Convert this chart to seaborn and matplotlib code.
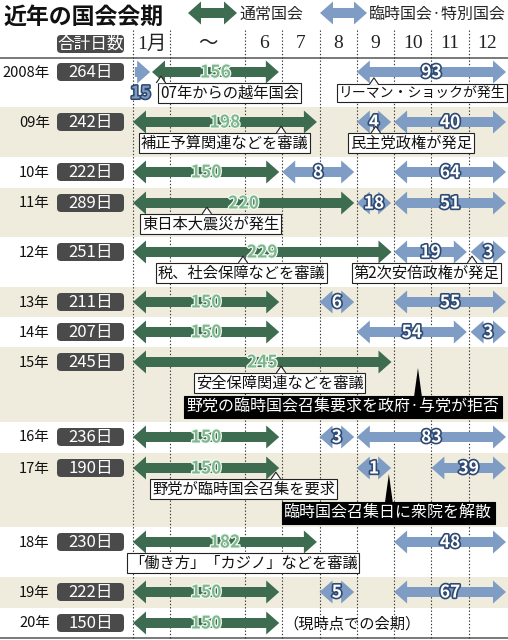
import numpy as np
import pandas as pd
import seaborn as sns
import matplotlib
matplotlib.use("Agg")
import matplotlib.pyplot as plt
from matplotlib.patches import Polygon, FancyBboxPatch, Rectangle
from matplotlib.lines import Line2D
import matplotlib.patheffects as pe

# ---------------- data ----------------
years = ["2008年", "09年", "10年", "11年", "12年", "13年", "14年",
         "15年", "16年", "17年", "18年", "19年", "20年"]
total_days = [264, 242, 222, 289, 251, 211, 207, 245, 236, 190, 230, 222, 150]

month_labels = ["1月", "～", "6", "7", "8", "9", "10", "11", "12"]
month_bounds = [0, 1, 3, 4, 5, 6, 7, 8, 9, 10]   # schematic column edges

# sessions (start / end in schematic month-column units)
seg_row = [0, 0, 0, 1, 1, 1, 2, 2, 2, 3, 3, 3, 4, 4, 4, 5, 5, 5, 6, 6, 6,
           7, 8, 8, 8, 9, 9, 9, 10, 10, 11, 11, 11, 12]
seg_kind = ["ext", "ord", "ext", "ord", "ext", "ext", "ord", "ext", "ext",
            "ord", "ext", "ext", "ord", "ext", "ext", "ord", "ext", "ext",
            "ord", "ext", "ext", "ord", "ord", "ext", "ext", "ord", "ext",
            "ext", "ord", "ext", "ord", "ext", "ext", "ord"]
seg_start = [0.05, 0.51, 6.0, 0.0, 6.0, 7.0, 0.0, 4.0, 7.0, 0.0, 6.0, 7.0,
             0.0, 7.0, 9.05, 0.0, 5.0, 7.0, 0.0, 6.0, 9.05, 0.0, 0.0, 5.0,
             6.0, 0.0, 6.0, 8.0, 0.0, 7.0, 0.0, 5.0, 7.0, 0.0]
seg_end = [0.46, 3.91, 10.0, 4.93, 6.92, 10.0, 3.92, 5.93, 10.0, 5.93, 6.92,
           10.0, 6.93, 8.95, 10.0, 3.92, 5.93, 10.0, 3.92, 8.95, 10.0, 6.93,
           3.92, 5.93, 10.0, 3.92, 6.92, 10.0, 4.93, 10.0, 3.92, 5.93, 10.0,
           3.92]
seg_days = [15, 156, 93, 198, 4, 40, 150, 8, 64, 220, 18, 51, 229, 19, 3,
            150, 6, 55, 150, 54, 3, 245, 150, 3, 83, 150, 1, 39, 182, 48,
            150, 5, 67, 150]

# annotations
ann_row = [0, 0, 1, 1, 3, 4, 4, 7, 7, 9, 9, 10, 12]
ann_text = ["07年からの越年国会", "リーマン・ショックが発生", "補正予算関連などを審議",
            "民主党政権が発足", "東日本大震災が発生", "税、社会保障などを審議",
            "第2次安倍政権が発足", "安全保障関連などを審議",
            "野党の臨時国会召集要求を政府·与党が拒否", "野党が臨時国会召集を要求",
            "臨時国会召集日に衆院を解散", "「働き方」「カジノ」などを審議",
            "（現時点での会期）"]
ann_x = [2.59, 7.76, 2.45, 7.45, 2.09, 2.91, 7.86, 3.93, 5.64, 2.96, 6.84,
         2.95, 4.02]
ann_ptr = [0.75, 6.46, 3.97, 6.51, 1.98, 2.95, 9.09, 3.97, 7.64, 3.83, 6.86,
           np.nan, np.nan]
ann_style = ["box", "box", "box", "box", "box", "box", "box", "box", "black",
             "box", "black", "box", "plain"]
ann_size = [11, 10, 11, 11, 11, 11, 11, 11, 11.5, 11, 11.5, 11, 11]

# ---------------- layout / style ----------------
row_heights = [49, 50, 31, 49, 50, 30, 30, 75, 31, 74, 50, 31, 30]
TOP = 58
PX = 37.3     # pixels per column unit
X0 = 133      # pixel of January 1st
GREEN = "#3e6c50"
BLUE = "#7e9cc4"
BEIGE = "#efecdd"
DARK = "#4a4a4a"

sns.set_theme(style="white")
plt.rcParams["font.family"] = ["Noto Sans CJK JP", "DejaVu Sans"]

seg = pd.DataFrame(dict(row=seg_row, kind=seg_kind, start=seg_start,
                        end=seg_end, days=seg_days))
ann = pd.DataFrame(dict(row=ann_row, text=ann_text, x=ann_x, ptr=ann_ptr,
                        style=ann_style, size=ann_size))

row_top = TOP + np.concatenate([[0], np.cumsum(row_heights)[:-1]])
bar_y = row_top + 15
bar_y[0] = row_top[0] + 14

fig = plt.figure(figsize=(5.08, 6.40), dpi=100)
fig.patch.set_facecolor("white")
deco = fig.add_axes([0, 0, 1, 1])
deco.set_xlim(0, 508)
deco.set_ylim(640, 0)
deco.axis("off")
ax = fig.add_axes([0, 0, 1, 1])
ax.set_xlim(-X0 / PX, (508 - X0) / PX)
ax.set_ylim(640, 0)
ax.axis("off")
ax.patch.set_alpha(0)


def arrow_poly(x0, x1, y, sx, left=True, right=True, sh=5.0, hh=11.5, hl=13.0):
    hlx = hl / sx
    pts = []
    if left:
        pts += [(x0, y), (x0 + hlx, y - hh), (x0 + hlx, y - sh)]
    else:
        pts += [(x0, y + sh), (x0, y - sh)]
    if right:
        pts += [(x1 - hlx, y - sh), (x1 - hlx, y - hh), (x1, y),
                (x1 - hlx, y + hh), (x1 - hlx, y + sh)]
    else:
        pts += [(x1, y - sh), (x1, y + sh)]
    if left:
        pts += [(x0 + hlx, y + sh), (x0 + hlx, y + hh)]
    return pts


# row backgrounds
for i, (t, h) in enumerate(zip(row_top, row_heights)):
    if i % 2 == 1:
        deco.add_patch(Rectangle((0, t), 508, h, fc=BEIGE, ec="none", zorder=0))

# header / bottom rules
deco.plot([0, 508], [TOP, TOP], color="#555555", lw=1.1, zorder=2)
deco.plot([0, 508], [638, 638], color="#555555", lw=1.1, zorder=2)

# dotted month grid
for b in month_bounds[:-1]:
    ax.plot([b, b], [30, 638], color="#333333", lw=0.8,
            ls=(0, (1.2, 1.8)), zorder=1)

# month labels
for lab, a, b in zip(month_labels, month_bounds[:-1], month_bounds[1:]):
    ax.text((a + b) / 2, 44, lab, ha="center", va="center", fontsize=14,
            family=["Liberation Serif", "Noto Sans CJK JP"], color="#222222")

# title and legend
deco.text(3, 17, "近年の国会会期", fontsize=16.5, fontweight="bold",
          ha="left", va="center", color="#111111")
deco.add_patch(Polygon(arrow_poly(188, 237, 13, 1.0), closed=True,
                       fc=GREEN, ec="none", zorder=3))
deco.text(240, 14, "通常国会", fontsize=11.5, ha="left", va="center")
deco.add_patch(Polygon(arrow_poly(320, 367, 13, 1.0), closed=True,
                       fc=BLUE, ec="none", zorder=3))
deco.text(369, 14, "臨時国会·特別国会", fontsize=11.5, ha="left", va="center")


def dark_box(yc, text):
    deco.add_patch(FancyBboxPatch((57, yc - 9), 67, 18,
                                  boxstyle="round,pad=0,rounding_size=4",
                                  fc=DARK, ec="none", zorder=3))
    deco.text(90.5, yc + 0.5, text, ha="center", va="center", color="white",
              fontsize=12, zorder=4)


dark_box(44, "合計日数")
for i, (yr, td) in enumerate(zip(years, total_days)):
    yc = bar_y[i]
    deco.text(50, yc + 0.5, yr, ha="right", va="center", fontsize=10.5,
              color="#111111")
    dark_box(yc, f"{td}日")

# session arrows
for _, s in seg.iterrows():
    y = bar_y[s.row]
    col = GREEN if s.kind == "ord" else BLUE
    left = not (s.row == 0 and s.kind == "ext" and s.start < 0.1)
    ax.add_patch(Polygon(arrow_poly(s.start, s.end, y, PX, left=left),
                         closed=True, fc=col, ec="none", zorder=3))
    if not left:
        tx, ty = (s.start + s.end) / 2 - 0.05, y + 21
        fill, stroke, lw = BLUE, "#2b456b", 2.2
    else:
        tx, ty = (s.start + s.end) / 2, y
        if s.kind == "ord":
            fill, stroke, lw = "#7db78c", "#f4faf5", 1.8
        else:
            fill, stroke, lw = "white", "#2f4b73", 2.4
    ax.text(tx, ty + 0.5, str(s.days), ha="center", va="center",
            fontsize=12.5, fontweight="bold", color=fill, zorder=5,
            path_effects=[pe.withStroke(linewidth=lw, foreground=stroke)])

# annotations
texts = []
for _, a in ann.iterrows():
    y = bar_y[a.row]
    if a.style == "box":
        t = ax.text(a.x, y + 21, a.text, ha="center", va="center",
                    fontsize=a["size"], color="#111111", zorder=6,
                    bbox=dict(boxstyle="square,pad=0.12", fc="white",
                              ec="#222222", lw=0.8))
    elif a.style == "black":
        t = ax.text(a.x, y + 45, a.text, ha="center", va="center",
                    fontsize=a["size"], color="white", zorder=6,
                    bbox=dict(boxstyle="square,pad=0.15", fc="black",
                              ec="black", lw=0.8))
    else:
        t = ax.text(a.x, y + 0.5, a.text, ha="left", va="center",
                    fontsize=a["size"], color="#111111", zorder=6)
    texts.append((t, a, y))

fig.canvas.draw()
inv = ax.transData.inverted()
for t, a, y in texts:
    if a.style == "plain" or np.isnan(a.ptr):
        continue
    bb = t.get_bbox_patch().get_window_extent()
    (_, ytop), = inv.transform([[bb.x0, bb.y1]])
    if a.style == "box":
        w = 4.5 / PX
        tip = ytop - 6.5
        ax.add_patch(Polygon([(a.ptr - w, ytop + 0.6), (a.ptr, tip),
                              (a.ptr + w, ytop + 0.6)], closed=True,
                             fc="white", ec="none", zorder=7))
        ax.add_line(Line2D([a.ptr - w, a.ptr, a.ptr + w],
                           [ytop, tip, ytop], color="#222222", lw=0.8,
                           zorder=8))
    else:
        w = 4.0 / PX
        ax.add_patch(Polygon([(a.ptr - w, ytop + 1), (a.ptr, y + 6),
                              (a.ptr + w, ytop + 1)], closed=True,
                             fc="black", ec="none", zorder=7))

fig.savefig("out.png", dpi=100, facecolor="white")
